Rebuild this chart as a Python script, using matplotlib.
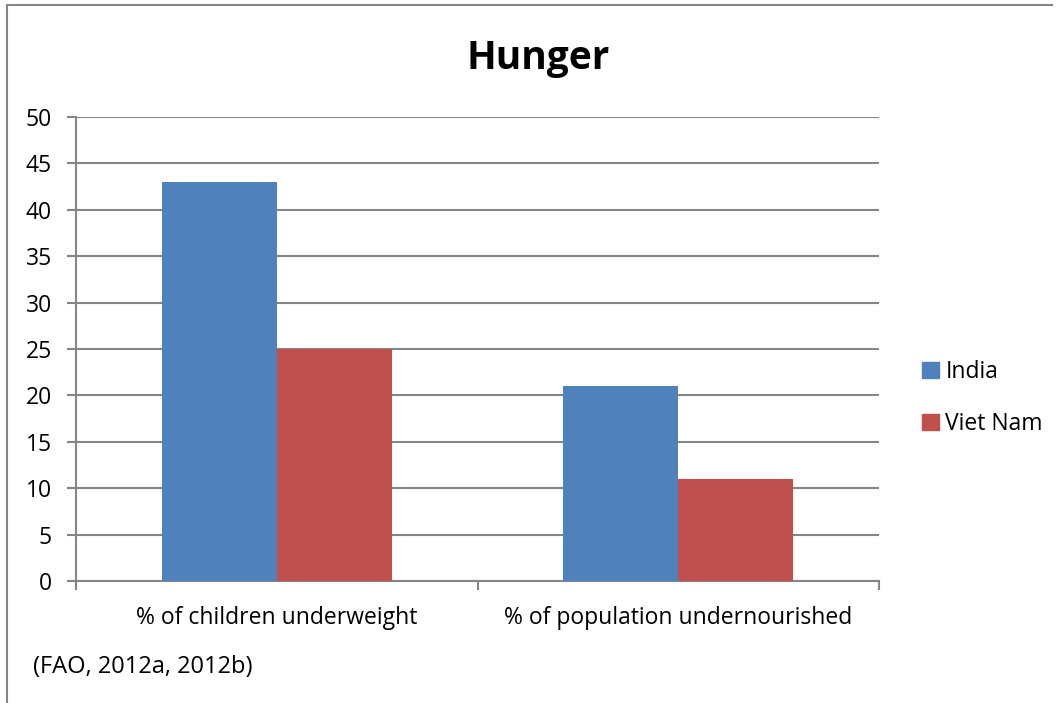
import numpy as np
import matplotlib
matplotlib.use("Agg")
import matplotlib.pyplot as plt
from matplotlib.lines import Line2D

categories = ["% of children underweight", "% of population undernourished"]
series_names = ["India", "Viet Nam"]
india = [43, 21]
viet_nam = [25, 11]
colors = ["#4f81bd", "#c0504d"]

plt.rcParams["font.family"] = ["Open Sans", "DejaVu Sans"]

W, H = 1061, 703
fig = plt.figure(figsize=(W / 100, H / 100), dpi=100)

# plot area in pixel coordinates
left, right, top, bottom = 76, 879, 117, 581
ax = fig.add_axes([left / W, 1 - bottom / H, (right - left) / W, (bottom - top) / H])

x = np.arange(len(categories)) + 0.5
width = 0.286
ax.bar(x - width / 2, india, width, color=colors[0], label=series_names[0], zorder=3)
ax.bar(x + width / 2, viet_nam, width, color=colors[1], label=series_names[1], zorder=3)

ax.set_xlim(0, 2)
ax.set_ylim(0, 50)
ax.set_yticks(range(0, 51, 5))
ax.yaxis.grid(True, color="#868686", linewidth=1.5, zorder=0)
ax.tick_params(axis="y", length=6.5, width=1.5, color="#868686", labelsize=16.5, pad=11)

# category labels sit between boundary ticks
ax.set_xticks([0, 1, 2])
ax.set_xticklabels([])
ax.tick_params(axis="x", length=6.5, width=1.5, color="#868686", direction="out")
for xi, cat in zip(x, categories):
    ax.text(xi, -3.95, cat, ha="center", va="center", fontsize=16.5)

for s in ["top", "right"]:
    ax.spines[s].set_visible(False)
for s in ["left", "bottom"]:
    ax.spines[s].set_color("#868686")
    ax.spines[s].set_linewidth(1.5)

fig.text(538 / W, 1 - 58 / H, "Hunger", ha="center", va="center", fontsize=28, fontweight="bold")
fig.text(33 / W, 1 - 667 / H, "(FAO, 2012a, 2012b)", ha="left", va="center", fontsize=17)

# legend
handles = [plt.Rectangle((0, 0), 1, 1, color=c) for c in colors]
fig.legend(handles, series_names, loc="center left", bbox_to_anchor=(911 / W, 1 - 398 / H),
           frameon=False, fontsize=16.5, handlelength=0.7, handleheight=0.7,
           handletextpad=0.3, labelspacing=1.2, borderpad=0)

# outer chart border (left and top edges)
fig.add_artist(Line2D([7 / W, 7 / W], [0, 1 - 5 / H], color="#868686", linewidth=1.5))
fig.add_artist(Line2D([7 / W, 1052 / W], [1 - 5 / H, 1 - 5 / H], color="#868686", linewidth=1.5))

fig.savefig("out.png", dpi=100)
